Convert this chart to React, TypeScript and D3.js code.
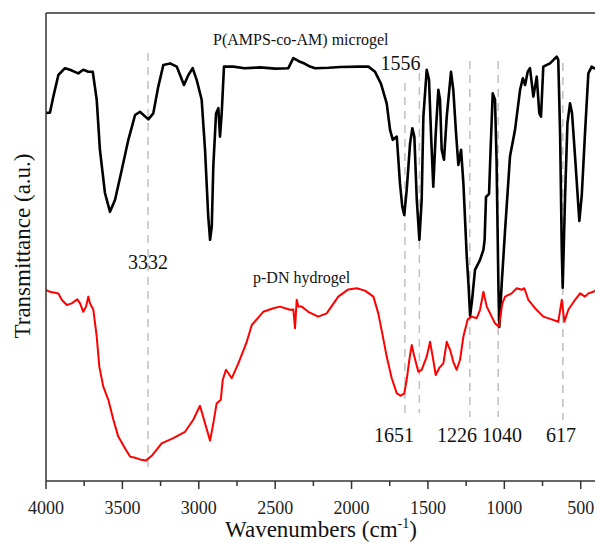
import React from "react";
import * as d3 from "d3";

// Wavenumber (cm^-1), transmittance (a.u.)
const microgelSpectrum: [number, number][] = [
  [4000, 92], [3974, 92.1], [3952, 96.1], [3919, 101.5], [3876, 103.2], [3843, 102.8],
  [3789, 101.9], [3756, 102.8], [3723, 102.3], [3694, 102.3], [3668, 95.3], [3647, 82.8],
  [3614, 72], [3581, 67.3], [3548, 70.3], [3504, 77.8], [3461, 85.3], [3417, 91.5],
  [3385, 92.3], [3330, 90.4], [3298, 91.9], [3265, 98.6], [3232, 104], [3188, 104.4],
  [3144, 103.6], [3097, 99], [3068, 101.5], [3040, 103.2], [3014, 100.3], [2981, 95.3],
  [2959, 82.8], [2938, 66.1], [2926, 60.3], [2915, 63.6], [2905, 78.6], [2887, 91.9],
  [2872, 93.2], [2861, 86.1], [2850, 91.9], [2835, 103.6], [2774, 103.6], [2700, 103.2],
  [2599, 103.4], [2501, 103.1], [2414, 103.2], [2381, 105.7], [2337, 104.8], [2305, 104.3],
  [2272, 103.6], [2239, 103.2], [2150, 103.3], [2075, 103.5], [1950, 103.6], [1890, 103.6],
  [1846, 102.3], [1807, 99.3], [1770, 94.4], [1748, 87.8], [1730, 85.3], [1704, 86.1],
  [1683, 74.4], [1668, 68.6], [1655, 66.5], [1639, 72.8], [1617, 84.4], [1602, 88.2],
  [1589, 86.1], [1573, 70.3], [1556, 60.3], [1541, 70.3], [1530, 91.1], [1508, 102.8],
  [1493, 100.3], [1480, 86.9], [1465, 73.6], [1449, 86.9], [1432, 97.8], [1421, 95.3],
  [1410, 82.8], [1395, 80.3], [1377, 91.1], [1349, 102.3], [1334, 97.8], [1316, 86.9],
  [1301, 79], [1283, 82.8], [1268, 74.4], [1246, 56.1], [1235, 49.4], [1224, 41.3],
  [1211, 45.3], [1192, 52.8], [1159, 55.3], [1137, 57.8], [1129, 60.3], [1120, 71],
  [1100, 71.8], [1090, 82.8], [1076, 96.9], [1061, 95.3], [1051, 80.3], [1039, 49.4],
  [1033, 38.5], [1017, 49.4], [995, 62.8], [963, 81.1], [930, 87.8], [897, 97.8],
  [879, 100.7], [864, 99], [847, 102.3], [832, 103.2], [810, 96.1], [788, 101.1],
  [771, 91.9], [760, 91.1], [745, 103.6], [701, 104.4], [657, 106.1], [647, 105.3],
  [635, 86.9], [624, 57.8], [618, 48.3], [603, 70.3], [587, 89.4], [570, 94.4],
  [557, 92], [537, 81.1], [509, 65], [493, 71.5], [472, 86.9], [450, 101.9],
  [428, 103.6], [406, 103],
];

const hydrogelSpectrum: [number, number][] = [
  [4000, 47.75], [3974, 47.3], [3919, 46.9], [3897, 45.3], [3864, 44], [3832, 44.4],
  [3795, 45.4], [3777, 44.4], [3756, 42.3], [3738, 43.6], [3723, 46.1], [3712, 44.4],
  [3690, 42.8], [3668, 36.1], [3651, 28.6], [3625, 23.6], [3592, 20.3], [3559, 15.3],
  [3527, 11.1], [3483, 8.2], [3450, 6.1], [3417, 5.8], [3385, 5.4], [3347, 5.1],
  [3308, 6.3], [3243, 9.4], [3167, 10.7], [3090, 12.3], [3036, 15.3], [2992, 18.8],
  [2959, 14.4], [2926, 10.1], [2905, 14.4], [2883, 19.4], [2856, 20.3], [2843, 25.3],
  [2822, 27.8], [2784, 25.7], [2741, 29.4], [2686, 34.8], [2653, 39], [2578, 42.3],
  [2512, 43.2], [2468, 43.6], [2403, 42.8], [2381, 42.9], [2370, 38.2], [2359, 45.3],
  [2348, 43.6], [2326, 43.6], [2283, 42.3], [2218, 41.1], [2163, 41.9], [2087, 46.1],
  [2021, 47.9], [1966, 48.2], [1912, 47.6], [1857, 46.1], [1825, 41.9], [1799, 36.9],
  [1770, 31.1], [1737, 25.7], [1704, 21.9], [1676, 21.3], [1655, 21.9], [1639, 25.3],
  [1622, 30.3], [1606, 34], [1589, 31.1], [1563, 27.3], [1541, 27.8], [1508, 31.1],
  [1486, 34.8], [1469, 31.1], [1449, 26.5], [1427, 28.2], [1399, 29.4], [1377, 34.8],
  [1355, 32.8], [1334, 29.8], [1312, 27.8], [1290, 30.3], [1268, 36.1], [1240, 40.4],
  [1213, 41.1], [1181, 40.7], [1159, 42.8], [1137, 47.3], [1115, 43.6], [1083, 41.1],
  [1061, 39.4], [1035, 38.6], [1013, 44.4], [995, 46.1], [952, 46.9], [919, 48.2],
  [886, 47.8], [869, 48.2], [843, 45.3], [799, 43.2], [745, 41.1], [690, 40.4],
  [647, 39.8], [624, 45.3], [607, 39.8], [581, 42.8], [537, 45.3], [504, 46.9],
  [472, 46.1], [450, 46.9], [417, 47.3], [400, 47.75],
];

const peakWavenumbers = [3332, 1651, 1556, 1226, 1040, 617];
const xTickValues = [4000, 3500, 3000, 2500, 2000, 1500, 1000, 500];
const xMinorTicks = [3750, 3250, 2750, 2250, 1750, 1250, 750];

const W = 595;
const H = 543;
const left = 46;
const right = 596;
const top = 13;
const bottom = 481;

export default function App() {
  const x = d3.scaleLinear().domain([4000, 400]).range([left, right]);
  const y = d3.scaleLinear().domain([0, 117]).range([bottom, top]);
  const line = d3
    .line<[number, number]>()
    .x((d) => x(d[0]))
    .y((d) => y(d[1]));

  const serif = "'Liberation Serif', 'Times New Roman', serif";

  // dashed guide extents (in a.u.)
  const dashTop: Record<number, number> = { 3332: 107, 1651: 99.5, 1556: 102, 1226: 105, 1040: 105, 617: 104.5 };
  const dashBottom: Record<number, number> = { 3332: 2, 1651: 17, 1556: 17, 1226: 16, 1040: 16, 617: 15.2 };

  return (
    <svg
      width={W}
      height={H}
      style={{ position: "absolute", left: 0, top: 0, background: "#fff", display: "block" }}
      fontFamily={serif}
    >
      <rect x={0} y={0} width={W} height={H} fill="#fff" />
      {/* dashed guides */}
      {peakWavenumbers.map((p) => (
        <line
          key={p}
          x1={x(p)}
          x2={x(p)}
          y1={y(dashTop[p])}
          y2={y(dashBottom[p])}
          stroke="#c0c0c0"
          strokeWidth={1.5}
          strokeDasharray="8,6"
        />
      ))}
      {/* spectra */}
      <path d={line(microgelSpectrum) || ""} fill="none" stroke="#000" strokeWidth={2.6} strokeLinejoin="round" />
      <path d={line(hydrogelSpectrum) || ""} fill="none" stroke="#ff0000" strokeWidth={2} strokeLinejoin="round" />

      {/* frame */}
      <line x1={left} x2={W} y1={top} y2={top} stroke="#333" strokeWidth={1.5} />
      <line x1={left} x2={left} y1={top} y2={bottom} stroke="#333" strokeWidth={1.5} />
      <line x1={left} x2={W} y1={bottom} y2={bottom} stroke="#333" strokeWidth={1.5} />

      {xTickValues.map((t) => (
        <g key={t}>
          <line x1={x(t)} x2={x(t)} y1={bottom} y2={bottom + 8} stroke="#333" strokeWidth={1.5} />
          <text x={x(t)} y={514} textAnchor="middle" fontSize={18} fill="#222">
            {t}
          </text>
        </g>
      ))}
      {xMinorTicks.map((t) => (
        <line key={t} x1={x(t)} x2={x(t)} y1={bottom} y2={bottom + 5} stroke="#333" strokeWidth={1.5} />
      ))}

      {/* axis titles */}
      <text x={321} y={537} textAnchor="middle" fontSize={23} fill="#111">
        Wavenumbers (cm
        <tspan fontSize={14} dy={-9}>-1</tspan>
        <tspan dy={9}>)</tspan>
      </text>
      <text
        transform="translate(30,246) rotate(-90)"
        textAnchor="middle"
        fontSize={23}
        fill="#111"
      >
        Transmittance (a.u.)
      </text>

      {/* annotations */}
      <text x={213} y={45} fontSize={16} fill="#111">P(AMPS-co-AM) microgel</text>
      <text x={253} y={283} fontSize={16} fill="#111">p-DN hydrogel</text>
      <text x={400.5} y={70} textAnchor="middle" fontSize={20} fill="#111">1556</text>
      <text x={148} y={269} textAnchor="middle" fontSize={20} fill="#111">3332</text>
      <text x={394} y={442} textAnchor="middle" fontSize={20} fill="#111">1651</text>
      <text x={457} y={442} textAnchor="middle" fontSize={20} fill="#111">1226</text>
      <text x={502} y={442} textAnchor="middle" fontSize={20} fill="#111">1040</text>
      <text x={561} y={442} textAnchor="middle" fontSize={20} fill="#111">617</text>
    </svg>
  );
}
